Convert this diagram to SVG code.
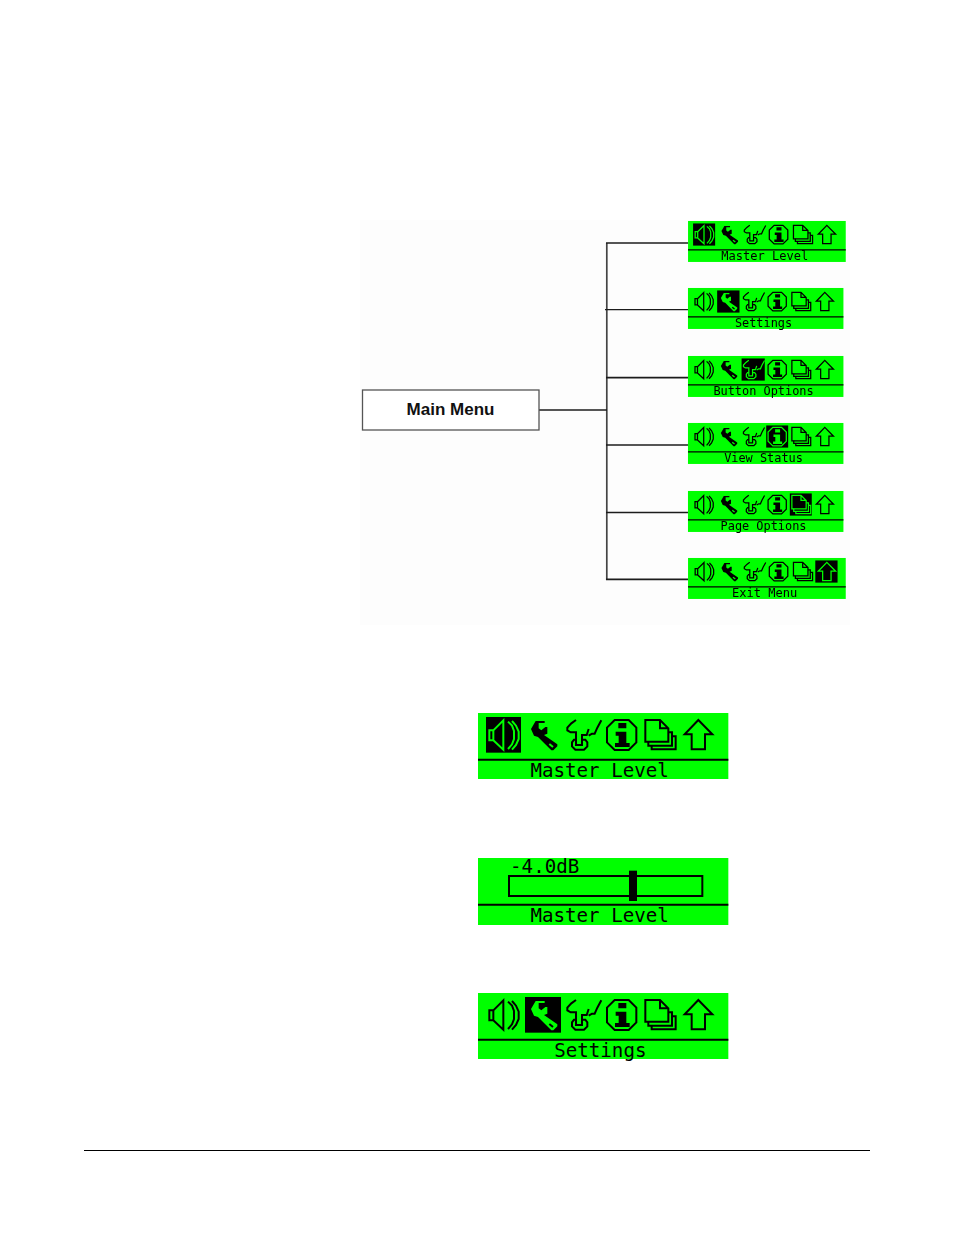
<svg xmlns="http://www.w3.org/2000/svg" xmlns:xlink="http://www.w3.org/1999/xlink" width="954" height="1235" viewBox="0 0 954 1235">
  <style>
    .screen { fill: #00ff00; }
    .rule { stroke: #000; stroke-width: 6; fill: none; }
    .lcd { font-family: "DejaVu Sans Mono", "Liberation Mono", monospace; font-size: 57.5px; fill: #000; text-anchor: middle; }
    .box { fill: #000; }
    .on { color: #00ff00; --back: #000; }
    .off { color: #000; --back: #00ff00; }
    .ln { fill: none; stroke: currentColor; stroke-width: 6; stroke-linejoin: miter; }
    .sol { fill: currentColor; stroke: none; }
    .inner { fill: none; stroke: var(--back); stroke-width: 6; }
    .full .ln, .full .sol, .full .inner { shape-rendering: crispEdges; }
    .wire { fill: none; stroke: #1c1c1c; stroke-width: 1.3; }
  </style>
  <defs>
    <filter id="soft" x="-2%" y="-5%" width="104%" height="110%"><feGaussianBlur stdDeviation="0.35"/></filter>

    <!-- Menu icons, drawn on the 751-unit-wide screen grid -->
    <g id="i-speaker">
      <path class="ln" d="M58,76H70V106H58Z M70,76L100,46V134L70,106"/>
      <path class="ln" d="M114,50L126,62L132,78V102L126,118L114,132"/>
      <path class="ln" d="M126,48L138,62L146,80V102L138,120L126,134"/>
    </g>
    <g id="i-wrench">
      <path class="sol" d="M183,72L197,48H224V54H206V70L214,76L226,66H232V86L222,90L262,118V124L250,136H244L204,96L192,92Z"/>
      <path class="inner" d="M238,117L249,126"/>
    </g>
    <g id="i-button">
      <path class="ln" d="M318,45L304,55L292,68V76L302,82H318V120H336V90H350L356,72M356,92L366,86H374L382,68L394,46"/>
      <path class="ln" d="M318,104H312L306,112V124L316,134H342L352,124V112L346,104H336"/>
    </g>
    <g id="i-info">
      <path class="ln" d="M434,45H476L499,68V112L476,135H434L411,112V68Z"/>
      <path class="sol" d="M445,54H469V70H445Z M437,80H469V114H479V126H435V114H446V92H437Z"/>
    </g>
    <g id="i-page">
      <path class="ln" d="M526,45H570L595,70V110H526Z M570,45V70H595"/>
      <path class="ln" d="M535,110V122H606V82H595"/>
      <path class="ln" d="M545,122V133H617V94H606"/>
    </g>
    <g id="i-exit">
      <path class="ln" d="M685,45L727,88H705V133H665V88H644Z"/>
    </g>

    <!-- Full icon row with the divider above the caption strip -->
    <g id="row" class="off">
      <use xlink:href="#i-speaker"/>
      <use xlink:href="#i-wrench"/>
      <use xlink:href="#i-button"/>
      <use xlink:href="#i-info"/>
      <use xlink:href="#i-page"/>
      <use xlink:href="#i-exit"/>
    </g>
    <rect id="face" class="screen" x="24" y="24" width="751" height="198"/>
    <path id="divider" class="rule" d="M24,164H775"/>
  </defs>

  <rect x="360" y="220" width="490" height="405" fill="#fdfdfd"/>

  <g id="connectors">
    <path class="wire" style="stroke:#444;stroke-width:1.7" d="M606.8,243V580"/>
    <path class="wire" d="M539,410H607"/>
    <path class="wire" d="M606,243H688"/>
    <path class="wire" d="M605,309.7H688"/>
    <path class="wire" style="stroke-width:1.8" d="M606,377.7H688"/>
    <path class="wire" d="M606,445H688"/>
    <path class="wire" d="M606,512.5H688"/>
    <path class="wire" style="stroke-width:1.8" d="M606,579.4H688"/>
  </g>

  <g id="main-menu">
    <rect x="362.5" y="390" width="176.5" height="40" fill="#fff" stroke="#555" stroke-width="1.3"/>
    <text x="450.5" y="415" font-family="'Liberation Sans', Arial, sans-serif" font-weight="700" font-size="17" text-anchor="middle" fill="#111">Main Menu</text>
  </g>

  <g id="menu-master-level" filter="url(#soft)" transform="translate(683,216) scale(.21,.207)">
    <use xlink:href="#face"/><use xlink:href="#divider"/><use xlink:href="#row"/>
    <rect class="box" x="48" y="36" width="105" height="107"/>
    <use class="on" xlink:href="#i-speaker"/>
    <text class="lcd" x="389" y="212">Master Level</text>
  </g>
  <g id="menu-settings" filter="url(#soft)" transform="translate(683,283) scale(.207)">
    <use xlink:href="#face"/><use xlink:href="#divider"/><use xlink:href="#row"/>
    <rect class="box" x="165" y="36" width="108" height="107"/>
    <use class="on" xlink:href="#i-wrench"/>
    <text class="lcd" x="389" y="212">Settings</text>
  </g>
  <g id="menu-button-options" filter="url(#soft)" transform="translate(683,351) scale(.207)">
    <use xlink:href="#face"/><use xlink:href="#divider"/><use xlink:href="#row"/>
    <rect class="box" x="283" y="36" width="112" height="107"/>
    <use class="on" xlink:href="#i-button"/>
    <text class="lcd" x="389" y="212">Button Options</text>
  </g>
  <g id="menu-view-status" filter="url(#soft)" transform="translate(683,418) scale(.207)">
    <use xlink:href="#face"/><use xlink:href="#divider"/><use xlink:href="#row"/>
    <rect class="box" x="402" y="36" width="106" height="107"/>
    <use class="on" xlink:href="#i-info"/>
    <text class="lcd" x="389" y="212">View Status</text>
  </g>
  <g id="menu-page-options" filter="url(#soft)" transform="translate(683,486) scale(.207)">
    <use xlink:href="#face"/><use xlink:href="#divider"/><use xlink:href="#row"/>
    <rect class="box" x="516" y="36" width="106" height="107"/>
    <use class="on" xlink:href="#i-page"/>
    <text class="lcd" x="389" y="212">Page Options</text>
  </g>
  <g id="menu-exit" filter="url(#soft)" transform="translate(683,553) scale(.21,.207)">
    <use xlink:href="#face"/><use xlink:href="#divider"/><use xlink:href="#row"/>
    <rect class="box" x="630" y="36" width="106" height="107"/>
    <use class="on" xlink:href="#i-exit"/>
    <text class="lcd" x="389" y="212">Exit Menu</text>
  </g>

  <g id="screen-master-icons" class="full" transform="translate(470,705) scale(.33333)">
    <use xlink:href="#face"/><use xlink:href="#divider"/><use xlink:href="#row"/>
    <rect class="box" x="48" y="36" width="105" height="107"/>
    <use class="on" xlink:href="#i-speaker"/>
    <text class="lcd" x="389" y="216">Master Level</text>
  </g>

  <g id="screen-master-slider" class="full" transform="translate(470,850) scale(.33333)">
    <rect class="screen" x="24" y="24" width="751" height="201"/>
    <use xlink:href="#divider"/>
    <text class="lcd" x="224" y="69">-4.0dB</text>
    <rect class="rule" x="117" y="78" width="580" height="60"/>
    <rect class="box" x="477" y="62" width="24" height="91"/>
    <text class="lcd" x="389" y="216">Master Level</text>
  </g>

  <g id="screen-settings" class="full" transform="translate(470,985) scale(.33333)">
    <use xlink:href="#face"/><use xlink:href="#divider"/><use xlink:href="#row"/>
    <rect class="box" x="165" y="36" width="108" height="107"/>
    <use class="on" xlink:href="#i-wrench"/>
    <text class="lcd" x="391" y="216">Settings</text>
  </g>

  <path id="footer-rule" d="M84,1150.5H870" stroke="#000" stroke-width="1" fill="none"/>
</svg>
